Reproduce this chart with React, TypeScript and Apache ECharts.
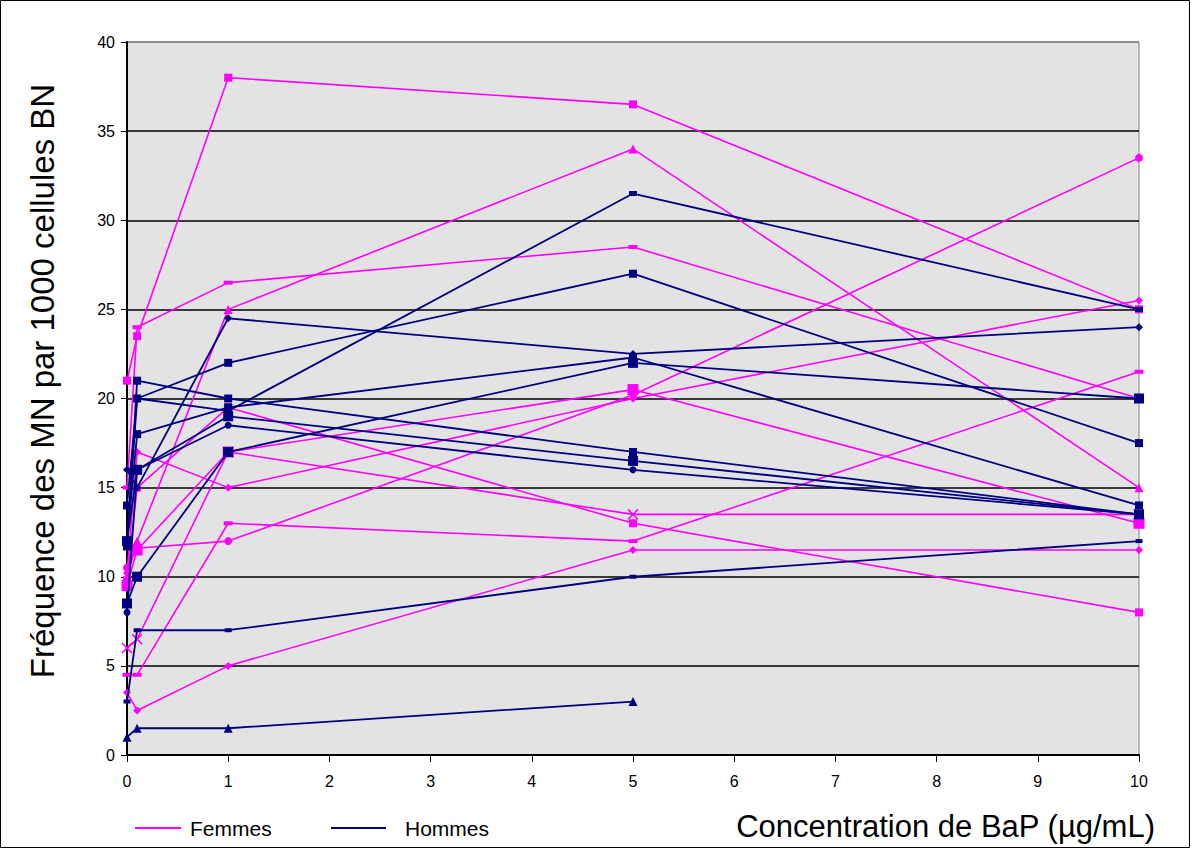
import React, { useEffect, useRef } from 'react';
import * as echarts from 'echarts';

// Concentrations de BaP (µg/mL)
const concentrations = [0, 0.1, 1, 5, 10];
const xTicks = [0, 1, 2, 3, 4, 5, 6, 7, 8, 9, 10];
const yTicks = [0, 5, 10, 15, 20, 25, 30, 35, 40];

// Femmes (fréquence MN / 1000 cellules BN)
const femmes1 = [21, 23.5, 38, 36.5, 25];
const femmes2 = [15, 24, 26.5, 28.5, 20];
const femmes3 = [10, 12, 25, 34, 15];
const femmes4 = [10.5, 11.6, 12, 20.2, 33.5];
const femmes5 = [10.2, 17, 15, 20, 25.5];
const femmes6 = [9.5, 11.5, 17, 20.5, 13];
const femmes7 = [6, 6.5, 17, 13.5, 13.5];
const femmes8 = [9.8, 15, 19.5, 13, 8];
const femmes9 = [4.5, 4.5, 13, 12, 21.5];
const femmes10 = [3.5, 2.5, 5, 11.5, 11.5];

// Hommes
const hommes1 = [12, 20, 19.3, 31.5, 25];
const hommes2 = [14, 20, 22, 27, 17.5];
const hommes3 = [16, 15, 24.5, 22.5, 24];
const hommes4 = [11.7, 21, 20, 17, 13.5];
const hommes5 = [12, 18, 19.5, 22.3, 14];
const hommes6 = [8.5, 10, 17, 22, 20];
const hommes7 = [12, 16, 19, 16.5, 13.5];
const hommes8 = [8, 16, 18.5, 16, 13.5];
const hommes9 = [3, 7, 7, 10, 12];
const hommes10 = [1, 1.5, 1.5, 3, null];

const femmesSeries = [femmes1, femmes2, femmes3, femmes4, femmes5, femmes6, femmes7, femmes8, femmes9, femmes10];
const hommesSeries = [hommes1, hommes2, hommes3, hommes4, hommes5, hommes6, hommes7, hommes8, hommes9, hommes10];

const X_PATH = 'path://M0,1L1,0L5,4L9,0L10,1L6,5L10,9L9,10L5,6L1,10L0,9L4,5Z';
const femmesMarkers: any[] = [
  ['rect', 8], ['rect', [9, 4]], ['triangle', 9], ['circle', 8], ['diamond', 8],
  ['rect', 11], [X_PATH, 11], ['rect', 8], ['rect', [9, 4]], ['diamond', 8],
];
const hommesMarkers: any[] = [
  ['rect', [8, 5]], ['rect', 8], ['diamond', 8], ['rect', 8], ['rect', 8],
  ['rect', 10], ['rect', 10], ['circle', 7], ['rect', [7, 4]], ['triangle', 9],
];

const PINK = '#FF00FF';
const NAVY = '#000080';
const FONT = '"Liberation Sans", Arial, sans-serif';

function toData(vals: (number | null)[]) {
  const out: any[] = [];
  vals.forEach((v, i) => {
    if (v !== null && v !== undefined) out.push([concentrations[i], v]);
  });
  return out;
}

export default function App() {
  const ref = useRef<HTMLDivElement>(null);
  useEffect(() => {
    if (!ref.current) return;
    const chart = echarts.init(ref.current, undefined, { renderer: 'svg' });
    const series: any[] = [];
    femmesSeries.forEach((s, i) => {
      series.push({
        name: 'Femmes',
        type: 'line',
        data: toData(s),
        symbol: femmesMarkers[i][0],
        symbolSize: femmesMarkers[i][1],
        showAllSymbol: true,
        lineStyle: { color: PINK, width: 1.6 },
        itemStyle: { color: PINK, borderWidth: 0 },
        z: 3,
      });
    });
    hommesSeries.forEach((s, i) => {
      series.push({
        name: 'Hommes',
        type: 'line',
        data: toData(s),
        symbol: hommesMarkers[i][0],
        symbolSize: hommesMarkers[i][1],
        showAllSymbol: true,
        lineStyle: { color: NAVY, width: 1.8 },
        itemStyle: { color: NAVY, borderWidth: 0 },
        z: 4,
      });
    });
    const splitColors = yTicks.map((t) => (t === 40 ? '#808080' : '#000000'));
    chart.setOption({
      animation: false,
      backgroundColor: '#FFFFFF',
      grid: {
        left: 127,
        right: 54,
        top: 42,
        bottom: 95,
        show: true,
        backgroundColor: '#E3E3E3',
        borderColor: '#808080',
        borderWidth: 1,
      },
      xAxis: {
        type: 'value',
        min: xTicks[0],
        max: xTicks[xTicks.length - 1],
        interval: 1,
        axisLine: { show: true, lineStyle: { color: '#000', width: 2 } },
        axisTick: { show: true, length: 7, lineStyle: { color: '#000', width: 1 } },
        splitLine: { show: false },
        axisLabel: { color: '#000', fontSize: 16, fontFamily: FONT, margin: 18 },
      },
      yAxis: {
        type: 'value',
        min: yTicks[0],
        max: yTicks[yTicks.length - 1],
        interval: 5,
        axisLine: { show: true, lineStyle: { color: '#000', width: 2 } },
        axisTick: { show: true, length: 6, lineStyle: { color: '#000', width: 1 } },
        splitLine: { show: true, lineStyle: { color: splitColors, width: 1.5 } },
        axisLabel: { color: '#000', fontSize: 16, fontFamily: FONT, margin: 12 },
      },
      series,
      graphic: [
        {
          type: 'rect',
          shape: { x: 0.5, y: 0.5, width: 1189, height: 847 },
          style: { fill: 'none', stroke: '#000', lineWidth: 1 },
          silent: true,
          z: -10,
        },
        {
          type: 'text',
          x: 42,
          y: 381,
          rotation: Math.PI / 2,
          style: {
            text: 'Fréquence des MN par 1000 cellules BN',
            font: `33px ${FONT}`,
            fill: '#000',
            align: 'center',
            verticalAlign: 'middle',
          },
        },
        {
          type: 'text',
          x: 1155,
          y: 826,
          style: {
            text: 'Concentration de BaP (µg/mL)',
            font: `31px ${FONT}`,
            fill: '#000',
            align: 'right',
            verticalAlign: 'middle',
          },
        },
        {
          type: 'line',
          shape: { x1: 135, y1: 828, x2: 181, y2: 828 },
          style: { stroke: PINK, lineWidth: 2 },
        },
        {
          type: 'text',
          x: 190,
          y: 828,
          style: { text: 'Femmes', font: `21px ${FONT}`, fill: '#000', align: 'left', verticalAlign: 'middle' },
        },
        {
          type: 'line',
          shape: { x1: 331, y1: 828, x2: 386, y2: 828 },
          style: { stroke: NAVY, lineWidth: 2 },
        },
        {
          type: 'text',
          x: 405,
          y: 828,
          style: { text: 'Hommes', font: `21px ${FONT}`, fill: '#000', align: 'left', verticalAlign: 'middle' },
        },
      ],
    });
    return () => chart.dispose();
  }, []);
  return (
    <div
      ref={ref}
      style={{ position: 'fixed', left: 0, top: 0, width: 1193, height: 850, background: '#fff' }}
    />
  );
}
